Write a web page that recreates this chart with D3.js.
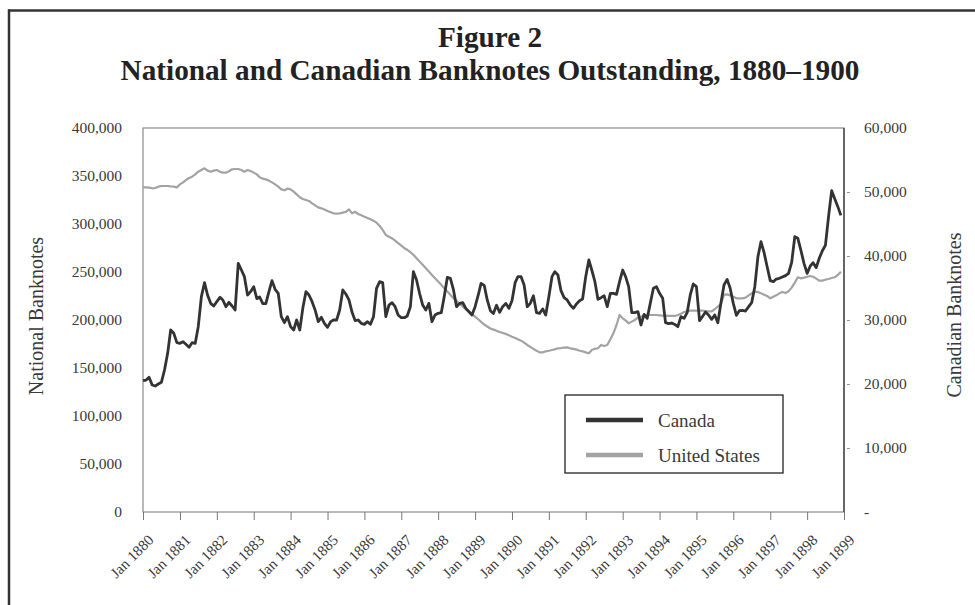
<!DOCTYPE html>
<html>
<head>
<meta charset="utf-8">
<script src="https://cdn.jsdelivr.net/npm/d3@7"></script>
<style>
  html, body { margin: 0; padding: 0; background: #ffffff; }
  svg { display: block; }
  text { font-family: "Liberation Serif", "DejaVu Serif", serif; }
</style>
</head>
<body>
<script>
// ---------------- DATA ----------------
const startYear = 1880;   // first monthly observation: Jan 1880
const seriesNames = ["Canada", "United States"];

// Canadian banknotes outstanding (right axis), monthly Jan 1880 - Dec 1898
const canada = [
  20520, 20620, 21040, 19840, 19690, 20000, 20260, 22190, 24790, 28440, 27920, 26460,
  26350, 26610, 26200, 25730, 26460, 26350, 28960, 33650, 35830, 33910, 32600, 32190,
  32860, 33540, 33130, 32080, 32760, 32190, 31560, 38850, 37810, 36770, 33910, 34430,
  35210, 33330, 33590, 32550, 32550, 34430, 36150, 34790, 34170, 30520, 29580, 30520,
  28960, 28440, 30000, 28440, 31820, 34430, 33910, 32860, 31500, 29740, 30420, 29480,
  28850, 29740, 30000, 30000, 31560, 34690, 34060, 33130, 31200, 29900, 30000, 29480,
  29320, 29740, 29320, 30520, 34950, 35990, 35830, 30520, 32340, 32700, 32080, 30780,
  30360, 30360, 30620, 32080, 37550, 36250, 34170, 32340, 31560, 32600, 29740, 30780,
  31040, 31140, 33650, 36670, 36510, 34690, 32080, 32600, 32700, 31820, 31300, 30780,
  32080, 33910, 35730, 35420, 33130, 31460, 31000, 32300, 31200, 32080, 32600, 31820,
  33000, 35830, 36770, 36770, 35470, 32080, 32600, 33800, 31150, 31040, 31720, 30780,
  33650, 36770, 37550, 37030, 34590, 33490, 33130, 32340, 31820, 32500, 33020, 33280,
  36770, 39380, 37810, 35990, 33230, 33490, 33800, 32080, 34170, 34170, 34000, 35990,
  37810, 36670, 35210, 31150, 31150, 31300, 29220, 30880, 30260, 32600, 34950, 35210,
  34170, 33390, 29580, 29430, 29530, 29300, 28960, 30520, 30260, 31150, 33910, 35630,
  35210, 29900, 30520, 31250, 30780, 30100, 30780, 29580, 32700, 35470, 36350, 34950,
  32600, 30730, 31460, 31510, 31400, 32080, 32700, 35210, 39900, 42240, 40520, 38330,
  36150, 35990, 36400, 36510, 36720, 36930, 37290, 39010, 43020, 42760, 40830, 38850,
  37290, 38440, 38960, 38180, 39640, 40830, 41670, 46150, 50210, 48960, 47710, 46350
];

// United States national banknotes outstanding (left axis), monthly Jan 1880 - Dec 1898
const unitedStates = [
  338200, 338200, 337900, 337200, 337500, 338900, 339600, 339600, 339600, 339200, 338900, 338000,
  341300, 343400, 345800, 347900, 349300, 351700, 354500, 356250, 358000, 355600, 354500, 355600,
  356250, 354500, 353500, 353500, 354900, 357000, 357300, 357300, 356250, 354500, 356250, 355200,
  353500, 351700, 348600, 347200, 346500, 345200, 343400, 341300, 338900, 336100, 335100, 336800,
  336100, 333700, 330900, 327800, 326000, 325000, 324000, 321500, 319400, 317300, 316300, 315000,
  313500, 312300, 311100, 310800, 311100, 311800, 312700, 315300, 311100, 312700, 310400, 309000,
  307600, 306200, 304900, 303500, 301400, 297900, 293800, 288500, 286800, 285100, 282700, 280000,
  277500, 274800, 273100, 270600, 267900, 264400, 260900, 257500, 254000, 250500, 247000, 243600,
  240100, 236600, 233100, 229700, 226200, 222700, 220000, 216800, 214000, 211200, 208800, 206000,
  203600, 200800, 198100, 195300, 193200, 191100, 190000, 188700, 187500, 186500, 185500, 184100,
  182600, 181300, 179900, 178500, 176500, 174000, 172000, 169900, 168000, 166300, 166300, 167400,
  168000, 168750, 169400, 170500, 170800, 171200, 171500, 170500, 169900, 169200, 168000, 167400,
  166300, 165300, 168750, 170100, 170500, 174000, 172900, 174000, 179900, 186100, 194800, 205200,
  201700, 199300, 196500, 198300, 200000, 202400, 203500, 204900, 205200, 205200, 205200, 205200,
  204900, 204500, 204500, 204200, 204200, 204200, 205200, 206600, 208300, 209000, 209700, 209700,
  209700, 209700, 209700, 209400, 209000, 209000, 211200, 213900, 216700, 226400, 226700, 225700,
  224300, 222600, 222600, 222600, 223300, 225700, 227800, 229200, 229200, 227800, 226400, 225000,
  222600, 224300, 225700, 227800, 229200, 228100, 229900, 233700, 238900, 244500, 243400, 244100,
  245100, 245800, 245100, 243100, 241000, 241000, 242000, 242700, 243800, 244500, 246900, 250300
];

const xTickYears = [1880, 1881, 1882, 1883, 1884, 1885, 1886, 1887, 1888, 1889,
                    1890, 1891, 1892, 1893, 1894, 1895, 1896, 1897, 1898, 1899];
const leftTicks  = [0, 50000, 100000, 150000, 200000, 250000, 300000, 350000, 400000];
const rightTicks = [0, 10000, 20000, 30000, 40000, 50000, 60000];

const titleLines = ["Figure 2", "National and Canadian Banknotes Outstanding, 1880\u20131900"];
const leftLabel = "National Banknotes";
const rightLabel = "Canadian Banknotes";

// ---------------- LAYOUT ----------------
const W = 975, H = 605;
const plot = { left: 143, right: 844, top: 128, bottom: 512 };
const colCanada = "#333333", colUS = "#a3a3a3", colText = "#3a3a3a";

const svg = d3.select("body").append("svg").attr("width", W).attr("height", H);
svg.append("rect").attr("width", W).attr("height", H).attr("fill", "#fff");

// outer frame (top and left edges visible)
svg.append("line").attr("x1", 8).attr("x2", W).attr("y1", 10.5).attr("y2", 10.5)
  .attr("stroke", "#333").attr("stroke-width", 2.5);
svg.append("line").attr("x1", 9).attr("x2", 9).attr("y1", 9.5).attr("y2", H)
  .attr("stroke", "#333").attr("stroke-width", 2.5);

// title
const t2 = svg.append("text").attr("x", 490).attr("y", 80).attr("text-anchor", "middle")
  .attr("font-weight", "bold").attr("font-size", 25).attr("fill", "#222").text(titleLines[1]);
const w2 = t2.node().getComputedTextLength();
const fs = 25 * 739 / w2;
t2.attr("font-size", fs);
svg.append("text").attr("x", 490).attr("y", 47).attr("text-anchor", "middle")
  .attr("font-weight", "bold").attr("font-size", fs).attr("fill", "#222").text(titleLines[0]);

// scales
const dates = canada.map((_, i) => new Date(startYear, i, 1));
const x = d3.scaleTime()
  .domain([new Date(xTickYears[0], 0, 1), new Date(xTickYears[xTickYears.length - 1], 0, 1)])
  .range([plot.left, plot.right]);
const yL = d3.scaleLinear().domain([0, 400000]).range([plot.bottom, plot.top]);
const yR = d3.scaleLinear().domain([0, 60000]).range([plot.bottom, plot.top]);

// plot frame
svg.append("rect").attr("x", plot.left).attr("y", plot.top)
  .attr("width", plot.right - plot.left).attr("height", plot.bottom - plot.top)
  .attr("fill", "none").attr("stroke", "#8a8a8a").attr("stroke-width", 1.2);
svg.append("line").attr("x1", plot.right).attr("x2", plot.right)
  .attr("y1", plot.top).attr("y2", plot.bottom).attr("stroke", "#444").attr("stroke-width", 1.4);

// left axis
const gL = svg.append("g").attr("transform", `translate(${plot.left},0)`)
  .call(d3.axisLeft(yL).tickValues(leftTicks).tickSize(0).tickPadding(21)
    .tickFormat(d3.format(",")));
gL.select(".domain").remove();
gL.selectAll("text").attr("font-size", 15.5).attr("fill", colText)
  .style("font-family", "'Liberation Serif', serif");

// right axis
const gR = svg.append("g").attr("transform", `translate(${plot.right},0)`)
  .call(d3.axisRight(yR).tickValues(rightTicks).tickSize(0).tickPadding(20)
    .tickFormat(d => d === 0 ? "-" : d3.format(",")(d)));
gR.select(".domain").remove();
gR.selectAll("text").attr("font-size", 15.5).attr("fill", colText)
  .style("font-family", "'Liberation Serif', serif");
gR.selectAll(".tick").filter(d => d > 0 && d < 60000).append("line")
  .attr("x1", 3).attr("x2", 6).attr("stroke", "#999").attr("stroke-width", 1);

// bottom axis
const gB = svg.append("g").attr("transform", `translate(0,${plot.bottom})`)
  .call(d3.axisBottom(x).tickValues(xTickYears.map(yr => new Date(yr, 0, 1)))
    .tickSize(8).tickFormat(d => "Jan " + d.getFullYear()));
gB.select(".domain").remove();
gB.selectAll(".tick line").attr("stroke", "#777");
gB.selectAll("text")
  .attr("x", 0).attr("y", 0).attr("dy", 0)
  .attr("text-anchor", "end")
  .attr("transform", "translate(11,29) rotate(-45)")
  .attr("font-size", 15).attr("fill", colText)
  .style("font-family", "'Liberation Serif', serif");

// axis titles
svg.append("text").attr("transform", "translate(43,316) rotate(-90)")
  .attr("text-anchor", "middle").attr("font-size", 20).attr("fill", colText).text(leftLabel);
svg.append("text").attr("transform", "translate(961,315) rotate(-90)")
  .attr("text-anchor", "middle").attr("font-size", 20).attr("fill", colText).text(rightLabel);

// lines
const lineUS = d3.line().x((d, i) => x(dates[i])).y(d => yL(d));
const lineCA = d3.line().x((d, i) => x(dates[i])).y(d => yR(d));
svg.append("path").datum(unitedStates).attr("d", lineUS)
  .attr("fill", "none").attr("stroke", colUS).attr("stroke-width", 2.2)
  .attr("stroke-linejoin", "round");
svg.append("path").datum(canada).attr("d", lineCA)
  .attr("fill", "none").attr("stroke", colCanada).attr("stroke-width", 2.8)
  .attr("stroke-linejoin", "round");

// legend
const lg = svg.append("g");
lg.append("rect").attr("x", 565).attr("y", 395).attr("width", 218).attr("height", 78)
  .attr("fill", "#fff").attr("stroke", "#333").attr("stroke-width", 1.4);
const legendItems = [
  { name: seriesNames[0], color: colCanada, y: 420 },
  { name: seriesNames[1], color: colUS, y: 455 }
];
legendItems.forEach(it => {
  lg.append("line").attr("x1", 586).attr("x2", 643).attr("y1", it.y).attr("y2", it.y)
    .attr("stroke", it.color).attr("stroke-width", 4.5);
  lg.append("text").attr("x", 658).attr("y", it.y + 6.5).attr("font-size", 19)
    .attr("fill", colText).text(it.name);
});
</script>
</body>
</html>
